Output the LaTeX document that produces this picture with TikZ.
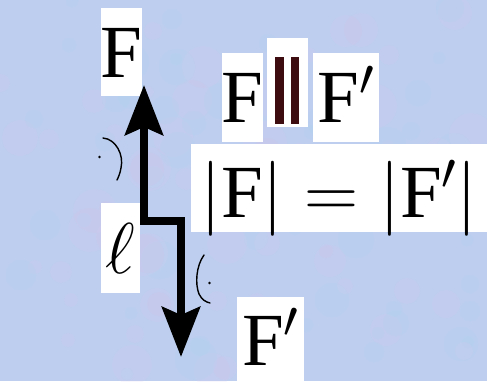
\RequirePackage{fix-cm}
\documentclass[tikz,border=0pt]{standalone}
\usepackage{amsmath}
\usepackage{fontspec}
\setmainfont{Liberation Serif}
\usepackage{xcolor}
\usetikzlibrary{arrows.meta}
\definecolor{paper}{RGB}{189,206,239}
\definecolor{pinkish}{RGB}{222,196,232}
\definecolor{cyanish}{RGB}{170,214,240}
\definecolor{barred}{RGB}{60,12,16}

\begin{document}
\begin{tikzpicture}[x=1pt, y=-1pt,
    label box/.style={fill=white, inner sep=0pt, font=\fontsize{75}{82}\selectfont,
        text height=50pt, text depth=0pt},
    force/.style={line width=8pt, {Stealth[length=50pt, width=38pt, inset=8pt]}-{Stealth[length=50pt, width=38pt, inset=8pt]}},
    squiggle/.style={black, line width=1.4pt, line cap=round}]
    \fill[paper] (0,0) rectangle (487,381);
    \useasboundingbox (0,0) rectangle (487,381);

    % Mottled paper
    \pgfmathsetseed{7}
    \foreach \i in {1,...,120} {
        \pgfmathsetmacro{\bx}{random(0,487)}
        \pgfmathsetmacro{\by}{random(0,381)}
        \pgfmathsetmacro{\br}{random(6,22)}
        \pgfmathtruncatemacro{\bc}{random(0,1)}
        \ifnum\bc=0
            \fill[pinkish, opacity=0.14] (\bx,\by) circle (\br pt);
        \else
            \fill[cyanish, opacity=0.14] (\bx,\by) circle (\br pt);
        \fi
    }

    % Labels of the couple
    \node[label box, minimum width=41pt, minimum height=88pt] (lblF) at (121.5,52) {$\mathrm{F}$};
    \node[label box, font=\fontsize{72}{80}\selectfont, minimum width=39pt, minimum height=90pt] (lblell) at (120.5,248) {$\ell$};
    \node[label box, minimum width=67pt, minimum height=86pt] (lblFp) at (270.5,340) {$\mathrm{F}'$};

    % Parallel and equal
    \node[label box, minimum width=41pt, minimum height=89pt] (parF) at (242.5,97.5) {$\mathrm{F}$};
    \node[fill=white, inner sep=0pt, minimum width=41pt, minimum height=89pt] (parbars) at (287.5,82.5) {};
    \fill[barred] (275,57) rectangle (283.5,124);
    \fill[barred] (290.5,57) rectangle (299,124);
    \node[label box, minimum width=66pt, minimum height=89pt] (parFp) at (346,97.5) {$\mathrm{F}'$};
    \node[label box, text height=58pt, minimum width=296pt, minimum height=88pt] (eqnorm) at (339,188) {$|\mathrm{F}| = |\mathrm{F}'|$};

    % Forces
    \coordinate (tipF) at (144,85);
    \coordinate (kneeA) at (144,220.5);
    \coordinate (kneeB) at (181,220.5);
    \coordinate (tipFp) at (181,357);
    \draw[force] (tipF) -- (kneeA) -- (kneeB) -- (tipFp);

    % Hand marks
    \draw[squiggle] (103,138) .. controls (116,139) and (124,155) .. (121,168) .. controls (120,174) and (118,178) .. (117,180);
    \fill (99.5,157) circle (1.4pt);
    \draw[squiggle] (204,255) .. controls (196,266) and (195,284) .. (199,294) .. controls (202,300) and (206,302) .. (210,303);
    \fill (209.5,283) circle (1.4pt);
\end{tikzpicture}
\end{document}
